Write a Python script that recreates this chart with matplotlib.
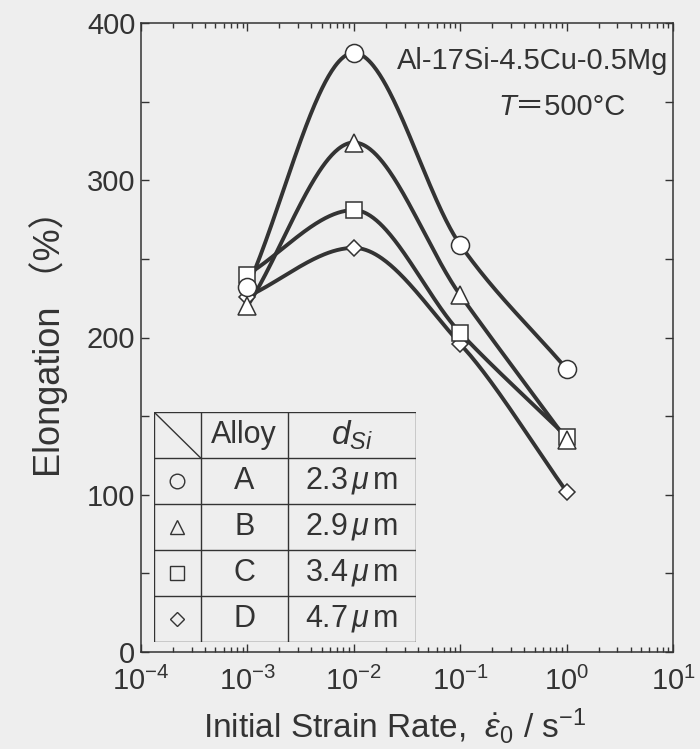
import numpy as np
import matplotlib
matplotlib.use('Agg')
import matplotlib.pyplot as plt
from matplotlib.ticker import FixedLocator, NullFormatter, LogLocator

plt.rcParams['font.family'] = ['Liberation Sans', 'Noto Sans CJK JP', 'DejaVu Sans']
plt.rcParams['mathtext.fontset'] = 'custom'
plt.rcParams['mathtext.rm'] = 'Liberation Sans'
plt.rcParams['mathtext.it'] = 'Liberation Sans:italic'
plt.rcParams['mathtext.bf'] = 'Liberation Sans:bold'

# data
strain_rate = [1e-3, 1e-2, 1e-1, 1e0]
alloys = ['A', 'B', 'C', 'D']
d_si = ['2.3', '2.9', '3.4', '4.7']
markers = ['o', '^', 's', 'D']
elong_A = [232, 381, 259, 180]
elong_B = [220, 324, 227, 135]
elong_C = [240, 281, 203, 137]
elong_D = [226, 257, 196, 102]
series = [elong_A, elong_B, elong_C, elong_D]


def smooth_curve(x, y, xs):
    # shape preserving cubic (pchip-like) through the measured points
    x = np.asarray(x, float)
    y = np.asarray(y, float)
    h = np.diff(x)
    d = np.diff(y) / h
    n = len(x)
    m = np.zeros(n)
    for k in range(1, n - 1):
        if d[k - 1] * d[k] > 0:
            w1 = 2 * h[k] + h[k - 1]
            w2 = h[k] + 2 * h[k - 1]
            m[k] = (w1 + w2) / (w1 / d[k - 1] + w2 / d[k])
    m[0] = d[0]
    m[-1] = d[-1]
    out = np.empty_like(xs)
    for j, xv in enumerate(xs):
        k = min(max(np.searchsorted(x, xv, side='right') - 1, 0), n - 2)
        t = (xv - x[k]) / h[k]
        h00 = 2 * t**3 - 3 * t**2 + 1
        h10 = t**3 - 2 * t**2 + t
        h01 = -2 * t**3 + 3 * t**2
        h11 = t**3 - t**2
        out[j] = h00 * y[k] + h10 * h[k] * m[k] + h01 * y[k + 1] + h11 * h[k] * m[k + 1]
    return out


bg = '#eeeeee'
ink = '#333333'

fig = plt.figure(figsize=(7.0, 7.49), dpi=100, facecolor=bg)
ax = fig.add_axes([141 / 700, 97 / 749, 532 / 700, 629 / 749], facecolor=bg)

lx = np.log10(strain_rate)
xs = np.linspace(lx[0], lx[-1], 300)
for vals in series:
    ax.plot(10**xs, smooth_curve(lx, vals, xs), color=ink, lw=2.8, zorder=2)
plot_order = [3, 2, 0, 1]
for i in plot_order:
    mk = markers[i]
    size = {'o': 13, '^': 12.5, 's': 12, 'D': 8.5}[mk]
    ax.plot(strain_rate, series[i], ls='none', marker=mk, ms=size, mfc='white',
            mec=ink, mew=1.1, zorder=3 + plot_order.index(i))

ax.set_xscale('log')
ax.set_xlim(1e-4, 1e1)
ax.set_ylim(0, 400)
ax.set_yticks([0, 100, 200, 300, 400])
ax.yaxis.set_minor_locator(FixedLocator([50, 150, 250, 350]))
ax.xaxis.set_minor_locator(LogLocator(base=10, subs=np.arange(2, 10), numticks=20))
ax.xaxis.set_minor_formatter(NullFormatter())
ax.tick_params(which='both', direction='in', top=True, right=True, colors=ink,
               labelsize=21, width=1.0)
ax.tick_params(axis='y', which='both', length=6, pad=4)
ax.tick_params(axis='x', which='major', length=6, pad=11)
ax.tick_params(axis='x', which='minor', length=3.5)
for sp in ax.spines.values():
    sp.set_color(ink)
    sp.set_linewidth(1.1)

ax.text(0.991, 0.927, 'Al-17Si-4.5Cu-0.5Mg', transform=ax.transAxes, ha='right',
        va='baseline', fontsize=21, color=ink)
ax.text(0.705, 0.854, 'T', transform=ax.transAxes, ha='right', va='baseline',
        fontsize=21, color=ink, style='italic')
ax.text(0.703, 0.854, '＝500°C', transform=ax.transAxes, ha='left', va='baseline',
        fontsize=21, color=ink)

fig.text(49 / 700, 1 - 335 / 749, 'Elongation （%）', rotation=90, ha='center',
         va='center', fontsize=26, color=ink)
fig.text(395 / 700, 1 - 726 / 749,
         r'Initial Strain Rate,  $\dot{\varepsilon}_{\mathit{0}}$ / s$^{-1}$',
         ha='center', va='center', fontsize=24, color=ink)

# key table drawn inside the plot
tw, th = 262, 230
tab = fig.add_axes([154 / 700, (749 - 642) / 749, tw / 700, th / 749], facecolor=bg)
tab.set_xlim(0, tw)
tab.set_ylim(th, 0)
tab.axis('off')
cols = [0, 46.7, 133.7, tw]
rows = np.linspace(0, th, 6)
for c in cols:
    tab.plot([c, c], [0, th], color=ink, lw=1.0)
for r in rows:
    tab.plot([0, tw], [r, r], color=ink, lw=1.0)
tab.plot([0, cols[1]], [0, rows[1]], color=ink, lw=1.0)
cx = [(cols[i] + cols[i + 1]) / 2 for i in range(3)]
cy = [(rows[i] + rows[i + 1]) / 2 for i in range(5)]
tab.text(cx[1], cy[0], 'Alloy', ha='center', va='center', fontsize=22, color=ink)
tab.text(cx[2], cy[0], r'$d_{Si}$', ha='center', va='center', fontsize=24, color=ink)
for i, (name, d, mk) in enumerate(zip(alloys, d_si, markers)):
    size = {'o': 10.5, '^': 10, 's': 9.5, 'D': 7.5}[mk]
    tab.plot(cx[0], cy[i + 1], marker=mk, ms=size, mfc='none', mec=ink, mew=1.0)
    tab.text(cx[1], cy[i + 1], name, ha='center', va='center', fontsize=22, color=ink)
    tab.text(cx[2], cy[i + 1], d + r'$\,\mu\,$m', ha='center', va='center',
             fontsize=22, color=ink)

fig.savefig('out.png', dpi=100, facecolor=bg)
